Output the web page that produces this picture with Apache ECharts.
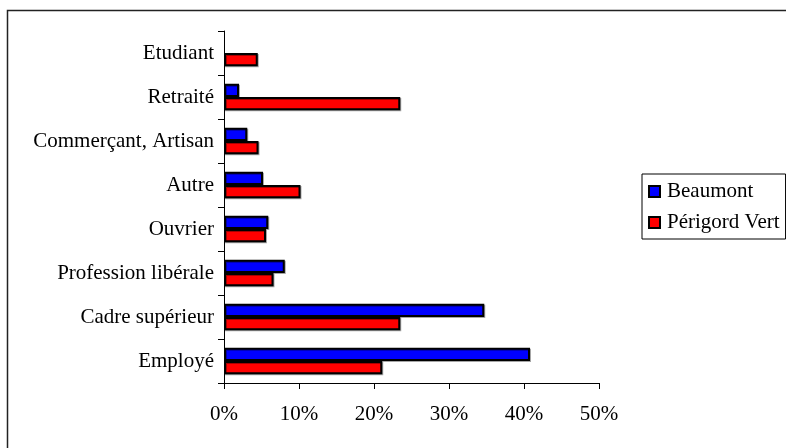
<!DOCTYPE html>
<html>
<head>
<meta charset="utf-8">
<script src="https://cdn.jsdelivr.net/npm/echarts@6/dist/echarts.min.js"></script>
<style>
html,body{margin:0;padding:0;background:#fff;}
#c{width:786px;height:448px;}
</style>
</head>
<body>
<div id="c"></div>
<script>
const categories = ["Etudiant", "Retraité", "Commerçant, Artisan", "Autre", "Ouvrier", "Profession libérale", "Cadre supérieur", "Employé"];
const beaumont = [null, 2.0, 3.1, 5.2, 5.9, 8.1, 34.7, 40.8];
const perigordVert = [4.5, 23.5, 4.6, 10.2, 5.6, 6.6, 23.5, 21.1];
const xTicks = [0, 10, 20, 30, 40, 50];

const font = "Liberation Serif";
const fs = 21;
const chart = echarts.init(document.getElementById('c'), null, {renderer: 'canvas'});
const barStyle = (c) => ({
  color: c, borderColor: '#000', borderWidth: 2,
  shadowColor: 'rgba(0,0,0,0.35)', shadowOffsetX: 1, shadowOffsetY: 1, shadowBlur: 0
});
chart.setOption({
  animation: false,
  backgroundColor: '#fff',
  textStyle: {fontFamily: font},
  graphic: [{
    type: 'rect', shape: {x: 7.5, y: 10.5, width: 900, height: 600},
    style: {fill: 'none', stroke: '#222', lineWidth: 1.5}, silent: true, z: -10
  }],
  grid: {left: 224, right: 187, top: 31, bottom: 65, containLabel: false},
  legend: {
    orient: 'vertical', left: 642, top: 174,
    padding: [7, 6, 6, 6], itemGap: 10, itemWidth: 11, itemHeight: 11,
    borderColor: '#000', borderWidth: 1, icon: 'rect',
    textStyle: {fontFamily: font, fontSize: fs, color: '#000', padding: [0, 0, 0, 2]},
    data: ['Beaumont', 'Périgord Vert']
  },
  xAxis: {
    type: 'value', min: xTicks[0], max: xTicks[xTicks.length - 1], interval: 10,
    axisLine: {show: true, lineStyle: {color: '#000', width: 1}},
    axisTick: {show: true, length: 6, lineStyle: {color: '#000'}},
    splitLine: {show: false},
    axisLabel: {fontFamily: font, fontSize: fs, color: '#000', margin: 21, formatter: v => v + '%'}
  },
  yAxis: {
    type: 'category', data: categories, inverse: true,
    axisLine: {show: true, lineStyle: {color: '#000', width: 1}},
    axisTick: {show: true, length: 6, lineStyle: {color: '#000'}},
    axisLabel: {fontFamily: font, fontSize: fs, color: '#000', margin: 10}
  },
  series: [
    {name: 'Beaumont', type: 'bar', data: beaumont, barGap: '0%', barCategoryGap: '40%', itemStyle: barStyle('#0000FF')},
    {name: 'Périgord Vert', type: 'bar', data: perigordVert, barGap: '0%', barCategoryGap: '40%', itemStyle: barStyle('#FF0000')}
  ]
});
</script>
</body>
</html>
